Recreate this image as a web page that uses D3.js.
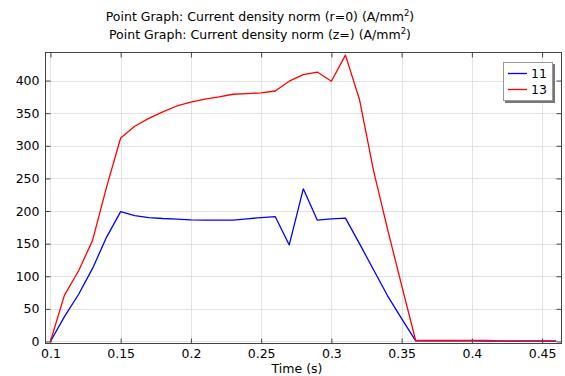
<!DOCTYPE html>
<html>
<head>
<meta charset="utf-8">
<script src="https://cdn.jsdelivr.net/npm/d3@7"></script>
<style>
  body { margin: 0; background: #fff; }
  text { font-family: "DejaVu Sans", sans-serif; fill: #000; }
</style>
</head>
<body>
<div id="chart"></div>
<script>
// Data
const times = [0.1, 0.11, 0.12, 0.13, 0.14, 0.15, 0.16, 0.17, 0.18, 0.19, 0.2,
    0.21, 0.22, 0.23, 0.24, 0.25, 0.26, 0.27, 0.28, 0.29, 0.3, 0.31, 0.32,
    0.33, 0.34, 0.35, 0.36, 0.37, 0.38, 0.39, 0.4, 0.41, 0.42, 0.43, 0.44, 0.45, 0.46];
const series11 = [0, 38, 72, 112, 160, 199, 193, 190, 188.5, 187.5, 186.5,
    186, 186, 186, 188, 190, 191.5, 148, 234, 186, 188, 189, 150,
    110, 70, 35, 1, 0.8, 0.8, 0.8, 0.8, 0.6, 0.5, 0.5, 0.5, 0.5, 0.5];
const series13 = [0, 71, 108, 155, 237, 312, 330, 342, 352, 361, 367,
    371.5, 375, 379, 380, 381, 384, 399, 409, 413, 399, 439, 371,
    262, 172, 86, 1.5, 1.5, 1.5, 1.5, 1.5, 1.5, 1, 1, 1, 1, 1];
const xTicks = [0.1, 0.15, 0.2, 0.25, 0.3, 0.35, 0.4, 0.45];
const yTicks = [0, 50, 100, 150, 200, 250, 300, 350, 400];
const legendLabels = ["11", "13"];
const colors = ["#0000ff", "#ff0000"];

const width = 565, height = 376;
const plot = { left: 45.5, right: 561.5, top: 52.5, bottom: 343.5 };

const svg = d3.select("#chart").append("svg")
    .attr("width", width)
    .attr("height", height);

const x = d3.scaleLinear().domain([0.0965, 0.4638]).range([plot.left, plot.right]);
const y = d3.scaleLinear().domain([-3.1, 443]).range([plot.bottom, plot.top]);

// Title
const title = svg.append("g").attr("font-size", 12.5).attr("text-anchor", "middle");
const t1 = title.append("text").attr("x", 260).attr("y", 21);
t1.append("tspan").text("Point Graph: Current density norm (r=0) (A/mm");
t1.append("tspan").attr("dy", -5).attr("font-size", 8.5).text("2");
t1.append("tspan").attr("dy", 5).text(")");
const t2 = title.append("text").attr("x", 260).attr("y", 39);
t2.append("tspan").text("Point Graph: Current density norm (z=) (A/mm");
t2.append("tspan").attr("dy", -5).attr("font-size", 8.5).text("2");
t2.append("tspan").attr("dy", 5).text(")");

// Grid
svg.append("g").selectAll("line").data(xTicks).join("line")
    .attr("x1", d => Math.round(x(d)) + 0.5).attr("x2", d => Math.round(x(d)) + 0.5)
    .attr("y1", plot.top).attr("y2", plot.bottom)
    .attr("stroke", "#e3e3e3");
svg.append("g").selectAll("line").data(yTicks).join("line")
    .attr("x1", plot.left).attr("x2", plot.right)
    .attr("y1", d => Math.round(y(d)) + 0.5).attr("y2", d => Math.round(y(d)) + 0.5)
    .attr("stroke", "#e3e3e3");

// Series
const line = d3.line().x((d, i) => x(times[i])).y(d => y(d));
[series11, series13].forEach((s, k) => {
    svg.append("path")
        .datum(s)
        .attr("d", line)
        .attr("fill", "none")
        .attr("stroke", colors[k])
        .attr("stroke-width", 1.3)
        .attr("stroke-linejoin", "round");
});

// Axes (inward ticks all round)
const tickLen = 5;
const axisColor = "#444";
const xb = svg.append("g").attr("transform", `translate(0,${plot.bottom})`)
    .call(d3.axisBottom(x).tickValues(xTicks).tickSizeInner(-tickLen).tickSizeOuter(0)
        .tickPadding(6).tickFormat(d3.format("")));
const xt = svg.append("g").attr("transform", `translate(0,${plot.top})`)
    .call(d3.axisTop(x).tickValues(xTicks).tickSizeInner(-tickLen).tickSizeOuter(0).tickFormat(""));
const yl = svg.append("g").attr("transform", `translate(${plot.left},0)`)
    .call(d3.axisLeft(y).tickValues(yTicks).tickSizeInner(-tickLen).tickSizeOuter(0).tickPadding(6));
const yr = svg.append("g").attr("transform", `translate(${plot.right},0)`)
    .call(d3.axisRight(y).tickValues(yTicks).tickSizeInner(-tickLen).tickSizeOuter(0).tickFormat(""));
[xb, xt, yl, yr].forEach(g => {
    g.select(".domain").remove();
    g.selectAll(".tick line").attr("stroke", axisColor);
    g.selectAll("text").attr("font-size", 12.5).attr("font-family", "DejaVu Sans").attr("fill", "#000");
});
svg.append("rect")
    .attr("x", plot.left).attr("y", plot.top)
    .attr("width", plot.right - plot.left).attr("height", plot.bottom - plot.top)
    .attr("fill", "none").attr("stroke", axisColor);

// X label
svg.append("text").attr("x", 297).attr("y", 373).attr("text-anchor", "middle")
    .attr("font-size", 12.5).text("Time (s)");

// Legend
const lg = svg.append("g").attr("transform", "translate(503,62)");
lg.append("rect").attr("x", 2).attr("y", 2).attr("width", 50).attr("height", 39).attr("fill", "#777");
lg.append("rect").attr("x", 0.5).attr("y", 0.5).attr("width", 49).attr("height", 38)
    .attr("fill", "#fff").attr("stroke", "#999");
legendLabels.forEach((lab, i) => {
    const yy = 11.5 + i * 16;
    lg.append("line").attr("x1", 5).attr("x2", 24).attr("y1", yy).attr("y2", yy)
        .attr("stroke", colors[i]).attr("stroke-width", 1.3);
    lg.append("text").attr("x", 28).attr("y", yy + 4.5).attr("font-size", 12.5).text(lab);
});
</script>
</body>
</html>
